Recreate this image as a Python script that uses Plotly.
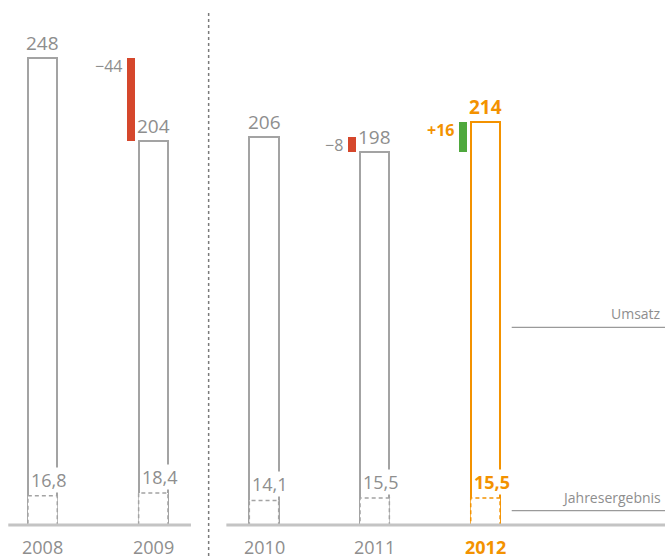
import plotly.graph_objects as go

# Umsatz / Jahresergebnis 2008-2012
jahre = ["2008", "2009", "2010", "2011", "2012"]
umsatz = [248, 204, 206, 198, 214]
ergebnis = [16.8, 18.4, 14.1, 15.5, 15.5]
ergebnis_text = ["16,8", "18,4", "14,1", "15,5", "15,5"]
veraenderung = [None, -44, None, -8, 16]
veraenderung_text = [None, "\u221244", None, "\u22128", "+16"]

GRAU = "#8e8e8e"
LINIE = "#a3a3a3"
ORANGE = "#f39200"
ROT = "#d5472c"
GRUEN = "#4fa83d"
FONT = "Open Sans"

BAR_W = 0.265
DELTA_W = 0.072
DELTA_OFF = -0.203

pos = list(range(len(jahre)))
farben = [LINIE] * 4 + [ORANGE]
textfarben = [GRAU] * 4 + [ORANGE]

fig = go.Figure()

# Umsatz-Balken (nur Umriss)
fig.add_trace(go.Bar(
    x=pos, y=umsatz, width=BAR_W,
    marker=dict(color="white", line=dict(color=farben, width=2)),
    hoverinfo="skip", showlegend=False
))

# Veraenderungs-Balken
for i, d in enumerate(veraenderung):
    if d is None:
        continue
    fig.add_trace(go.Bar(
        x=[pos[i] + DELTA_OFF], y=[d], base=[umsatz[i - 1]], width=DELTA_W,
        marker=dict(color=ROT if d < 0 else GRUEN, line=dict(width=0)),
        hoverinfo="skip", showlegend=False
    ))
    top = max(umsatz[i - 1], umsatz[i - 1] + d)
    fig.add_annotation(
        x=pos[i] + DELTA_OFF - DELTA_W / 2, y=top, xanchor="right", yanchor="top",
        text=f"<b>{veraenderung_text[i]}</b>" if d > 0 else veraenderung_text[i],
        showarrow=False, xshift=-3, yshift=5,
        font=dict(family=FONT, size=16, color=ORANGE if d > 0 else GRAU)
    )

# Beschriftungen der Jahresergebnisse (weisser Hintergrund verdeckt die Balkenlinie)
for i in pos:
    bold = i == 4
    fig.add_annotation(
        x=pos[i] - BAR_W / 2, y=ergebnis[i], yref="y2", xanchor="left", yanchor="bottom",
        showarrow=False, xshift=2, yshift=3, bgcolor="white", borderpad=0,
        text=f"<b>{ergebnis_text[i]}</b>" if bold else ergebnis_text[i],
        font=dict(family=FONT, size=18, color=textfarben[i])
    )

# Jahresergebnis als gestrichelte Kaestchen (eigene Skala)
for i, e in enumerate(ergebnis):
    fig.add_shape(
        type="rect", xref="x", yref="y2",
        x0=pos[i] - BAR_W / 2, x1=pos[i] + BAR_W / 2, y0=0, y1=e,
        line=dict(color=farben[i], width=1.5, dash="4px,3px"),
        fillcolor="white", layer="above"
    )

# Grundlinie, zweigeteilt
for x0, x1 in [(-0.31, 1.34), (1.66, 5.7)]:
    fig.add_shape(type="line", xref="x", yref="y", x0=x0, x1=x1, y0=0, y1=0,
                  line=dict(color="#c4c4c4", width=3), layer="above")

# gepunktete Trennlinie
fig.add_shape(type="line", xref="x", yref="paper", x0=1.5, x1=1.5, y0=0, y1=0.98,
              line=dict(color="#7a7a7a", width=1.5, dash="dot"))

for i in pos:
    bold = i == 4
    fig.add_annotation(
        x=pos[i], y=umsatz[i], yanchor="bottom", showarrow=False,
        text=f"<b>{umsatz[i]}</b>" if bold else str(umsatz[i]),
        font=dict(family=FONT, size=19, color=textfarben[i])
    )
    fig.add_annotation(
        x=pos[i], y=0, yanchor="top", showarrow=False, yshift=-11,
        height=18, valign="middle",
        text=f"<b>{jahre[i]}</b>" if bold else jahre[i],
        font=dict(family=FONT, size=18, color=textfarben[i])
    )

# Legende rechts
for label, ytxt, ylin in [("Umsatz", 0.437, 0.4113), ("Jahresergebnis", 0.106, 0.0815)]:
    fig.add_annotation(xref="paper", yref="paper", x=1, y=ytxt, xanchor="right",
                       yanchor="middle", showarrow=False, xshift=-2, text=label,
                       font=dict(family=FONT, size=14, color=GRAU))
    fig.add_shape(type="line", xref="paper", yref="paper", x0=0.7695, x1=1,
                  y0=ylin, y1=ylin, line=dict(color="#9a9a9a", width=1.2))

fig.update_layout(
    width=665, height=556,
    margin=dict(l=0, r=0, t=0, b=0),
    paper_bgcolor="white", plot_bgcolor="white",
    barmode="overlay", bargap=0,
    xaxis=dict(range=[-0.3848, 5.6224], visible=False, fixedrange=True),
    yaxis=dict(range=[-16.46, 278.8], visible=False, fixedrange=True),
    yaxis2=dict(range=[-17.82, 301.7], visible=False, overlaying="y", fixedrange=True),
    showlegend=False
)

fig.write_html("out.html", config={"displayModeBar": False},
               post_script="document.body.style.margin='0';")
